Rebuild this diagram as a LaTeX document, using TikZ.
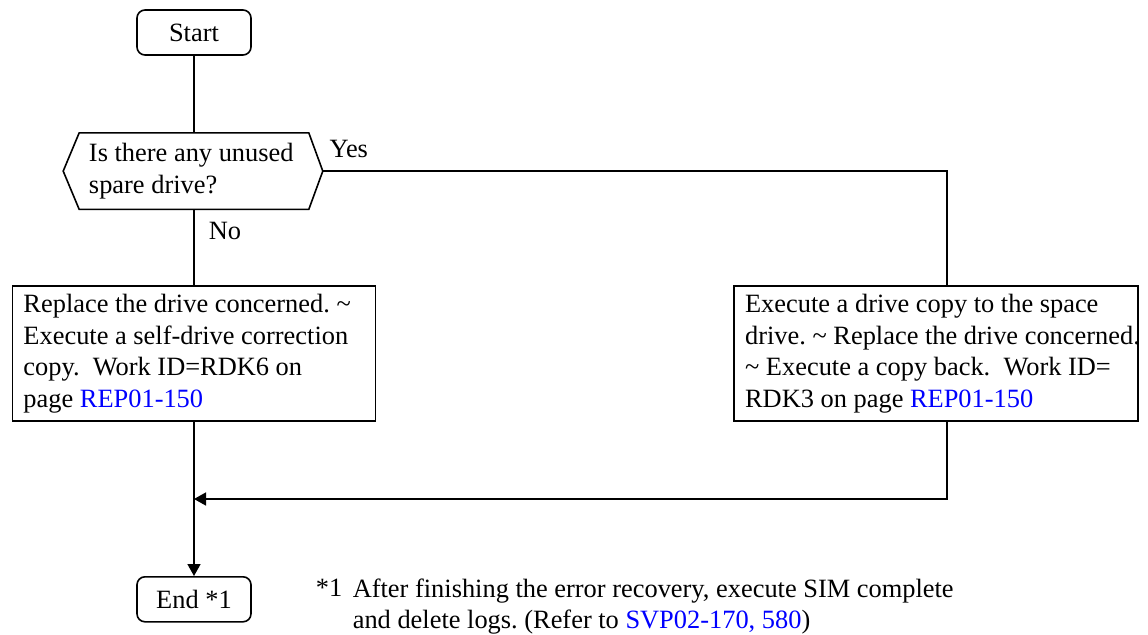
\documentclass[tikz,border=0pt]{standalone}
\usepackage{fontspec}
\setmainfont{Liberation Serif}
\usepackage{tikz}
\usetikzlibrary{arrows.meta,positioning,calc}
\usepackage{xcolor}
\definecolor{linkblue}{HTML}{0000FF}
\definecolor{darktext}{HTML}{000000}
\newcommand{\lnk}[1]{\textcolor{linkblue}{#1}}
\newcommand{\tld}{\textasciitilde}
\newcommand{\textlines}[2]{\makebox[#1][l]{\begin{tabular}{@{}l@{}}#2\end{tabular}}}
\frenchspacing

\begin{document}
\begin{tikzpicture}[
  x=0.5pt, y=-0.5pt, line width=0.8pt,
  every node/.style={font=\fontsize{13.2}{15.8}\selectfont, text=darktext},
  terminal/.style={rectangle, rounded corners=4pt, draw, minimum width=57pt,
                   minimum height=22.5pt, inner sep=0pt},
  decision/.style={rectangle, inner xsep=4.5pt, inner ysep=0pt, minimum height=37.5pt},
  process/.style={rectangle, draw, inner xsep=5.5pt, inner ysep=0pt, minimum height=67.5pt},
  answer/.style={inner sep=0pt},
  note/.style={inner sep=0pt, align=left},
  flow/.style={-{Triangle[length=6pt, width=6.5pt]}},
]
  \useasboundingbox (0,0) rectangle (1148,634);

  \node[terminal] (start) at (194,32.5) {Start};
  \node[decision, below=38.5pt of start] (q)
    {\textlines{105pt}{Is there any unused\\spare drive?}};
  \draw (q.north west) -- (q.north east) -- ([xshift=7pt]q.east) coordinate (qe)
        -- (q.south east) -- (q.south west) -- ([xshift=-8pt]q.west) -- cycle;

  \node[process, below=38pt of q] (fix)
    {\textlines{170.5pt}{Replace the drive concerned. \tld\\Execute a self-drive correction\\copy.\ \ Work ID=RDK6 on\\page \lnk{REP01-150}}};
  \node[process, right=178.5pt of fix] (copy)
    {\textlines{191pt}{Execute a drive copy to the space\\drive. \tld{} Replace the drive concerned.\\\tld{} Execute a copy back.\ \ Work ID=\\RDK3 on page \lnk{REP01-150}}};
  \node[terminal, below=77pt of fix] (end) {End *1};

  \coordinate (merge) at ($(fix.south)!0.5!(end.north)$);

  \draw (start) -- (q);
  \draw (q) -- (fix);
  \draw (qe) -| ([xshift=5.5pt]copy.north);
  \draw[flow] ([xshift=5.5pt]copy.south) |- (merge);
  \draw[flow] (fix) -- (end);

  \node[answer, above right=6.25pt and 3pt of qe] (yes) {Yes};
  \node[answer, below right=6.25pt and 7pt of q.south] (no) {No};

  % footnote for End
  \node[note, anchor=base west] (mark) at (315,596) {*1};
  \node[note, anchor=north west] (remark) at (352,578)
    {After finishing the error recovery, execute SIM complete\\and delete logs. (Refer to \lnk{SVP02-170, 580})};
\end{tikzpicture}
\end{document}
